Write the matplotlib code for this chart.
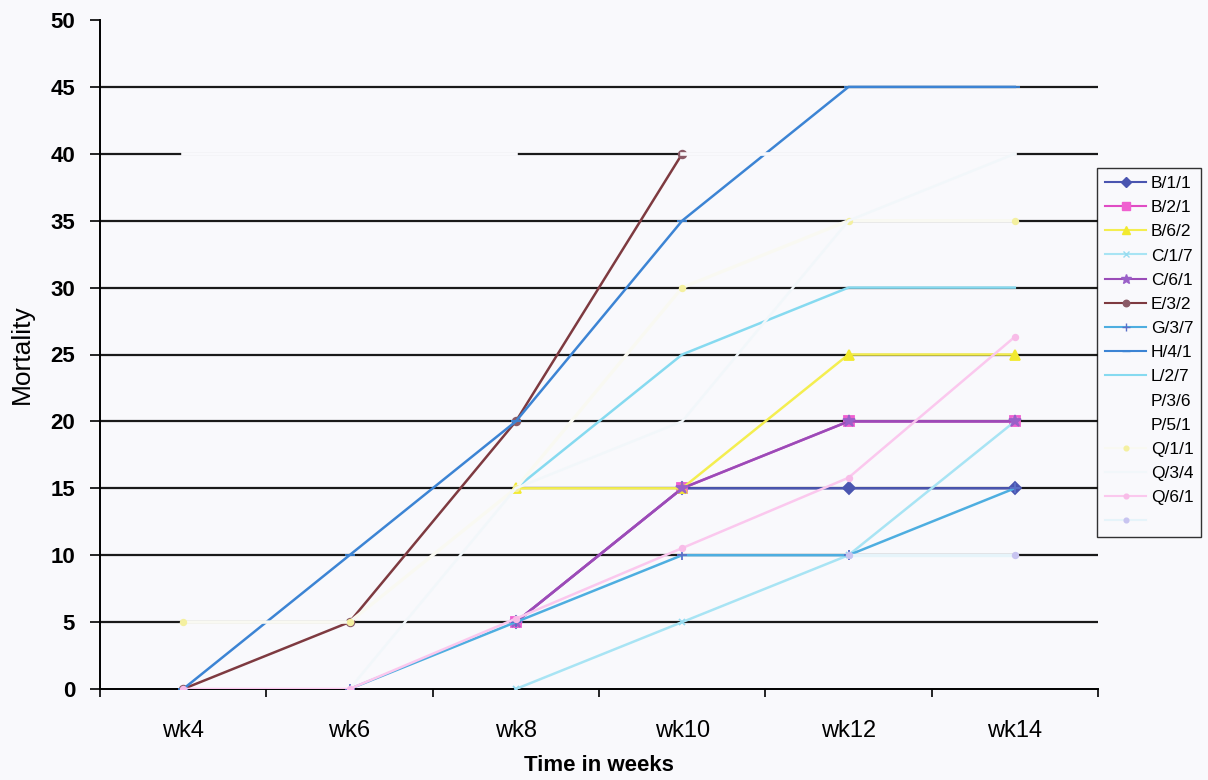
import numpy as np
import matplotlib
matplotlib.use("Agg")
import matplotlib.pyplot as plt
from matplotlib.lines import Line2D
from matplotlib import font_manager

nan = np.nan

# categories (x axis)
weeks = ["wk4", "wk6", "wk8", "wk10", "wk12", "wk14"]

# mortality per line, one list per series
b_1_1 = [nan, nan, 5, 15, 15, 15]
b_2_1 = [nan, nan, 5, 15, 20, 20]
b_6_2 = [nan, nan, 15, 15, 25, 25]
c_1_7 = [nan, nan, 0, 5, 10, 20]
c_6_1 = [nan, nan, 5, 15, 20, 20]
e_3_2 = [0, 5, 20, 40, nan, nan]
g_3_7 = [nan, 0, 5, 10, 10, 15]
h_4_1 = [0, 10, 20, 35, 45, 45]
l_2_7 = [nan, nan, 15, 25, 30, 30]
p_3_6 = [nan, nan, nan, 40, 40, 40]
p_5_1 = [40, 40, 40, nan, nan, nan]
q_1_1 = [5, 5, 15, 30, 35, 35]
q_3_4 = [nan, 0, 15, 20, 35, 40]
q_6_1 = [0, 0, 5.26, 10.53, 15.79, 26.32]
extra = [nan, nan, nan, nan, 10, 10]

series_names = ["B/1/1", "B/2/1", "B/6/2", "C/1/7", "C/6/1", "E/3/2", "G/3/7",
                "H/4/1", "L/2/7", "P/3/6", "P/5/1", "Q/1/1", "Q/3/4", "Q/6/1", ""]
series_values = [b_1_1, b_2_1, b_6_2, c_1_7, c_6_1, e_3_2, g_3_7,
                 h_4_1, l_2_7, p_3_6, p_5_1, q_1_1, q_3_4, q_6_1, extra]

# line colour, marker colour, marker, marker size, line width
styles = [
    ("#4a55b0", "#4a55b0", "D", 6, 1.8),
    ("#e04cc4", "#f060d0", "s", 7, 1.8),
    ("#f4ee50", "#f2ea30", "^", 7, 1.8),
    ("#a8e4f4", "#98dcf0", "x", 5, 1.8),
    ("#9a4cb8", "#9a60c8", "*", 9, 1.8),
    ("#7e3a40", "#8a5a66", "o", 5.5, 1.8),
    ("#4eaee0", "#5a70c8", "+", 7, 1.8),
    ("#3c84d4", "#3c84d4", "_", 7, 1.8),
    ("#86daf0", "#86daf0", "", 0, 1.8),
    ("#f9f9fc", "#f9f9fc", "", 0, 2.6),
    ("#f9f9fc", "#f9f9fc", "", 0, 2.6),
    ("#f9f9f2", "#f4f0a0", "o", 4, 2.4),
    ("#f2f7fa", "#e8f2f8", "", 0, 1.8),
    ("#fbc8ee", "#f8bce8", "o", 4, 1.8),
    ("#e6f4fa", "#c8c4f0", "o", 4, 2.4),
]

bg = "#f9f9fc"
plt.rcParams["font.family"] = ["Liberation Sans", "DejaVu Sans"]

installed = {f.name for f in font_manager.fontManager.ttflist}
narrow = ["Liberation Sans Narrow", "Liberation Sans"] if "Liberation Sans Narrow" in installed \
    else ["Liberation Sans", "DejaVu Sans"]

fig = plt.figure(figsize=(12.08, 7.80), dpi=100, facecolor=bg)
ax = fig.add_axes([100 / 1208, 1 - 689 / 780, 998 / 1208, 669 / 780], facecolor=bg)

x = np.arange(len(weeks))

# black horizontal gridlines under the series
for yv in range(5, 50, 5):
    ax.axhline(yv, color="#1a1a1a", lw=1.6, zorder=1)

handles = []
for name, vals, (lc, mc, mk, ms, lw) in zip(series_names, series_values, styles):
    ax.plot(x, vals, color=lc, lw=lw, marker=mk if mk else None, ms=ms,
            markerfacecolor=mc, markeredgecolor=mc, mew=1.3, zorder=3)
    handles.append(Line2D([], [], color=lc, lw=1.5, marker=mk if mk else None,
                          ms=ms * 0.85, markerfacecolor=mc, markeredgecolor=mc))

ax.set_xlim(-0.5, 5.5)
ax.set_ylim(0, 50)

# category boundaries carry the ticks, category centres carry the labels
ax.set_xticks(np.arange(-0.5, 6.0, 1.0))
ax.set_xticklabels([])
ax.set_xticks(x, minor=True)
ax.set_xticklabels(weeks, minor=True, fontsize=17, family=narrow)
ax.tick_params(axis="x", which="major", direction="out", length=6, width=1.2, color="black")
ax.tick_params(axis="x", which="minor", length=0, pad=22)

ax.set_yticks(np.arange(0, 51, 5))
ax.tick_params(axis="y", direction="out", length=7, width=1.2, color="black",
               labelsize=16, pad=11)
for t in ax.get_yticklabels():
    t.set_fontweight("bold")

for side in ("top", "right"):
    ax.spines[side].set_visible(False)
for side in ("left", "bottom"):
    ax.spines[side].set_color("black")
    ax.spines[side].set_linewidth(1.4)
    ax.spines[side].set_zorder(2)

ax.set_ylabel("Mortality", fontsize=19, family=narrow, labelpad=12)
ax.set_xlabel("Time in weeks", fontsize=16, fontweight="bold", labelpad=10)

leg = fig.legend(handles, series_names, loc="upper left",
                 bbox_to_anchor=(1097 / 1208, 1 - 168 / 780),
                 frameon=True, fancybox=False, edgecolor="black", facecolor=bg,
                 fontsize=12.5, handlelength=2.4, handletextpad=0.25,
                 labelspacing=0.52, borderpad=0.45, borderaxespad=0)
leg.get_frame().set_linewidth(1.0)

fig.savefig("out.png", dpi=100, facecolor=bg)
